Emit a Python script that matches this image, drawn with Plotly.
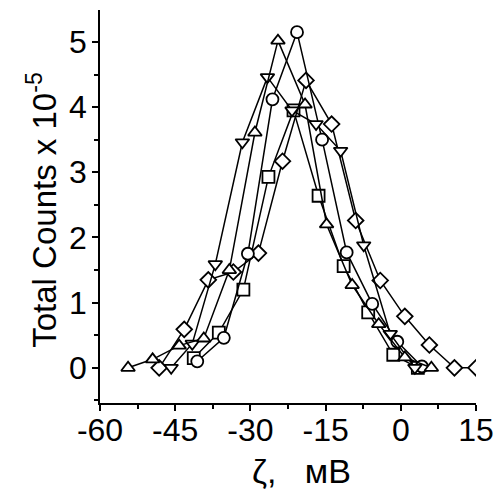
import plotly.graph_objects as go

# Data (zeta potential, mV  vs  total counts x 1e-5)
tri_up_x = [-54.4, -49.5, -44.2, -39.3, -34.2, -29.1, -24.5, -19.1, -14.8, -9.7, -4.4, 0.8, 6.1]
tri_up_y = [0.0, 0.13, 0.34, 0.45, 1.50, 3.61, 5.02, 4.04, 2.20, 1.27, 0.67, 0.16, 0.0]

tri_dn_x = [-45.8, -41.6, -37.0, -31.6, -26.6, -21.7, -16.9, -12.0, -7.4, -2.1, 2.8]
tri_dn_y = [0.0, 0.37, 1.59, 3.46, 4.46, 3.95, 3.74, 3.33, 1.88, 0.52, 0.0]

circ_x = [-40.6, -35.3, -30.5, -25.6, -20.7, -15.7, -10.8, -5.7, -0.7, 4.2]
circ_y = [0.10, 0.46, 1.75, 4.12, 5.15, 3.50, 1.77, 0.98, 0.40, 0.02]

dia_x = [-48.2, -43.2, -38.4, -33.4, -28.4, -23.6, -18.9, -13.8, -9.0, -4.1, 0.8, 5.7, 10.7, 15.0]
dia_y = [0.0, 0.59, 1.35, 1.47, 1.76, 3.17, 4.41, 3.74, 2.26, 1.34, 0.79, 0.35, 0.0, 0.0]

sq_x = [-41.3, -36.3, -31.4, -26.4, -21.4, -16.4, -11.4, -6.5, -1.5, 3.4]
sq_y = [0.15, 0.54, 1.20, 2.93, 3.95, 2.64, 1.56, 0.85, 0.20, 0.0]

x_ticks = [-60, -45, -30, -15, 0, 15]
y_ticks = [0, 1, 2, 3, 4, 5]

FONT = "Arial, Liberation Sans, sans-serif"

series = [
    (sq_x, sq_y, "square"),
    (dia_x, dia_y, "diamond"),
    (circ_x, circ_y, "circle"),
    (tri_dn_x, tri_dn_y, "triangle-down"),
    (tri_up_x, tri_up_y, "triangle-up"),
]

fig = go.Figure()
for xs, ys, sym in series:
    fig.add_trace(go.Scatter(
        x=xs, y=ys, mode="lines+markers",
        line=dict(color="black", width=1.5),
        marker=dict(symbol=sym, size=12, color="white",
                    line=dict(color="black", width=1.8)),
        showlegend=False, cliponaxis=True,
    ))

axis_common = dict(
    showline=True, linecolor="black", linewidth=1.6,
    ticks="outside", ticklen=6, tickwidth=1.6, tickcolor="black",
    showgrid=False, zeroline=False, mirror=False,
    tickfont=dict(family=FONT, size=32, color="black"),
)

fig.update_xaxes(range=[-60, 15], tickvals=x_ticks,
                 ticktext=[str(v) for v in x_ticks],
                 ticklabelstandoff=-8,
                 minor=dict(ticks="outside", ticklen=4, tickwidth=1.6,
                            tickcolor="black", dtick=7.5, tick0=-60),
                 **axis_common)
fig.update_yaxes(range=[-0.54, 5.49], tickvals=y_ticks,
                 ticktext=[str(v) for v in y_ticks],
                 ticklabelstandoff=-1,
                 minor=dict(ticks="outside", ticklen=4, tickwidth=1.6,
                            tickcolor="black", dtick=0.5, tick0=0),
                 **axis_common)

fig.add_annotation(text="Total Counts x 10<sup>-5</sup>", xref="paper", yref="paper",
                   x=-0.155, y=0.491, xanchor="center", yanchor="middle",
                   textangle=-90, showarrow=False,
                   font=dict(family=FONT, size=33, color="black"))
fig.add_annotation(text="ζ,&nbsp;&nbsp;&nbsp;мВ", xref="paper", yref="paper",
                   x=0.535, y=-0.173, xanchor="center", yanchor="middle",
                   showarrow=False,
                   font=dict(family=FONT, size=34, color="black"))

fig.update_layout(
    width=504, height=491,
    margin=dict(l=100, r=24, t=10, b=88),
    paper_bgcolor="white", plot_bgcolor="white",
)

fig.write_html("out.html")
